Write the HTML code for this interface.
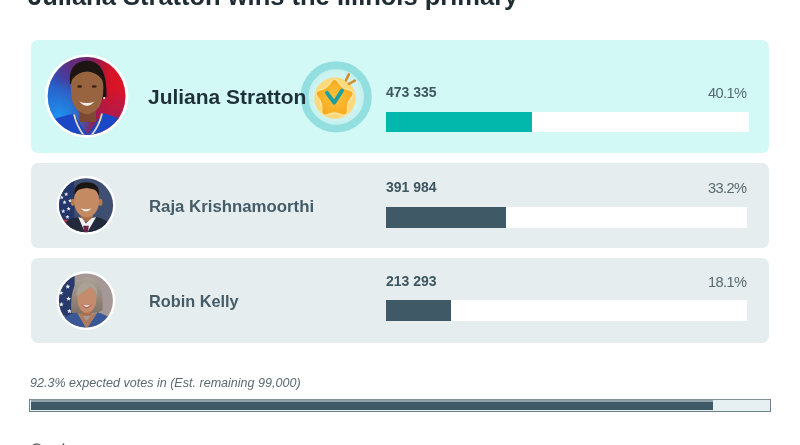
<!DOCTYPE html>
<html>
<head>
<meta charset="utf-8">
<style>
*{margin:0;padding:0;box-sizing:border-box}
html,body{width:800px;height:445px;overflow:hidden;background:#fff}
body{position:relative;font-family:"Liberation Sans",sans-serif}
.title,.name,.votes,.pct,.foot{will-change:transform}
.abs{position:absolute}
.title{position:absolute;left:28px;top:-19.4px;font-size:25.5px;font-weight:700;color:#1f2c33;white-space:nowrap;line-height:30px}
.card{position:absolute;left:30.5px;width:738.5px;border-radius:7px}
.c1{top:40px;height:112.5px;background:#d2f9f6}
.c2{top:163px;height:85px;background:#e5edef}
.c3{top:258px;height:84.5px;background:#e5edef}
.name{position:absolute;white-space:nowrap;font-weight:700}
.n1{left:148.3px;font-size:20.96px;color:#1f3138}
.n2{left:149px;font-size:16.6px;color:#455c68}
.votes{position:absolute;left:386.4px;font-size:14px;font-weight:700;color:#3e5660;white-space:nowrap}
.pct{position:absolute;right:54px;font-size:14.6px;letter-spacing:-0.6px;color:#58696f;white-space:nowrap}
.bar{position:absolute;left:386px;width:363px;height:20px;background:#fff}
.bar i{position:absolute;left:0;top:0;height:100%;display:block}
.foot{position:absolute;left:30px;top:375.5px;font-size:12.55px;font-style:italic;color:#5b6a70;white-space:nowrap}
.prog{position:absolute;left:29px;top:399px;width:742px;height:13px;border:1px solid #6e8188;border-top-color:#7d9096;background:#e6eff1}
.prog i{position:absolute;left:1.3px;top:0;height:10px;width:681.5px;background:#3f5966;border-top:2px solid #8fa2a8;display:block}
.av{position:absolute;border-radius:50%;background:#fff;overflow:hidden}
</style>
</head>
<body>
<div class="title">Juliana Stratton wins the Illinois primary</div>

<div class="card c1"></div>
<div class="card c2"></div>
<div class="card c3"></div>

<!-- avatar 1 -->
<svg class="abs" style="left:44px;top:54px" width="86" height="86" viewBox="44 54 86 86">
<defs>
<clipPath id="cp1"><circle cx="86.6" cy="96" r="38.9"/></clipPath>
<linearGradient id="g1bg" x1="0" y1="0" x2="1" y2="0">
<stop offset="0" stop-color="#2458cc"/><stop offset="0.3" stop-color="#3646a8"/><stop offset="0.55" stop-color="#8a1a50"/><stop offset="0.78" stop-color="#d61426"/><stop offset="1" stop-color="#e41424"/>
</linearGradient>
<radialGradient id="g1b" cx="0.18" cy="0.72" r="0.45"><stop offset="0" stop-color="#1e92f0"/><stop offset="1" stop-color="#1e92f0" stop-opacity="0"/></radialGradient>
<radialGradient id="g1p" cx="0.35" cy="0.08" r="0.35"><stop offset="0" stop-color="#6a2878"/><stop offset="1" stop-color="#6a2878" stop-opacity="0"/></radialGradient>
<radialGradient id="g1r" cx="0.9" cy="0.78" r="0.4"><stop offset="0" stop-color="#a81c58"/><stop offset="1" stop-color="#a81c58" stop-opacity="0"/></radialGradient>
</defs>
<circle cx="86.6" cy="96" r="41.8" fill="#fff"/>
<g clip-path="url(#cp1)">
<rect x="44" y="54" width="86" height="86" fill="url(#g1bg)"/>
<rect x="44" y="54" width="86" height="86" fill="url(#g1b)"/>
<rect x="44" y="54" width="86" height="86" fill="url(#g1p)"/>
<rect x="44" y="54" width="86" height="86" fill="url(#g1r)"/>
<path d="M70 84 Q67.5 62 87 60.5 Q107.5 61 106.5 97 L98 100 L76 84 Z" fill="#1d1512"/>
<rect x="79" y="104" width="17" height="18" fill="#7c4a33"/>
<path d="M70.8 88 Q70.8 70.5 87 69.5 Q103.4 70.5 103.4 88 Q103.4 104 96 110.5 Q90.5 114.2 87 114.2 Q83.5 114.2 78 110.5 Q70.8 104 70.8 88 Z" fill="#98633f"/>
<path d="M72 80 Q76 68 87 67 Q98 68 102.5 80 Q97 72 87 71.5 Q77 72 72 80 Z" fill="#1d1512"/>
<ellipse cx="79.6" cy="86.5" rx="2.5" ry="1.2" fill="#3a2216"/>
<ellipse cx="94.2" cy="86.5" rx="2.5" ry="1.2" fill="#3a2216"/>
<path d="M79.2 101.5 Q87 110 94.5 101.5 Q87 104.5 79.2 101.5 Z" fill="#f5efe9"/>
<circle cx="104.2" cy="98" r="1.1" fill="#f0e8e0"/>
<path d="M40 142 L46 123 Q60 116 73.5 114 L87.5 135 L102.5 113 Q116 116 127 123 L133 142 Z" fill="#1c48c6"/>
<path d="M74 114.5 Q77 127 85 137" stroke="#e6dabd" stroke-width="1.7" fill="none"/>
<path d="M102 113.5 Q99 127 90 137" stroke="#e6dabd" stroke-width="1.7" fill="none"/>
</g>
</svg>
<!-- avatar 2 -->
<svg class="abs" style="left:50px;top:170px" width="72" height="72" viewBox="0 0 445 445">
<defs>
<clipPath id="cp2"><circle cx="223" cy="218" r="167"/></clipPath>
</defs>
<circle cx="223" cy="218" r="182" fill="#fff"/>
<g clip-path="url(#cp2)">
<rect width="445" height="445" fill="#3e4f72"/>
<rect x="40" y="60" width="110" height="300" fill="#25366a"/>
<g fill="#e8ecf4"><polygon points="100.0,136.0 103.5,145.2 113.3,145.7 105.6,151.8 108.2,161.3 100.0,155.9 91.8,161.3 94.4,151.8 86.7,145.7 96.5,145.2"/><polygon points="125.0,176.0 128.5,185.2 138.3,185.7 130.6,191.8 133.2,201.3 125.0,195.9 116.8,201.3 119.4,191.8 111.7,185.7 121.5,185.2"/><polygon points="90.0,186.0 93.5,195.2 103.3,195.7 95.6,201.8 98.2,211.3 90.0,205.9 81.8,211.3 84.4,201.8 76.7,195.7 86.5,195.2"/><polygon points="115.0,226.0 118.5,235.2 128.3,235.7 120.6,241.8 123.2,251.3 115.0,245.9 106.8,251.3 109.4,241.8 101.7,235.7 111.5,235.2"/><polygon points="82.0,241.0 85.5,250.2 95.3,250.7 87.6,256.8 90.2,266.3 82.0,260.9 73.8,266.3 76.4,256.8 68.7,250.7 78.5,250.2"/><polygon points="108.0,276.0 111.5,285.2 121.3,285.7 113.6,291.8 116.2,301.3 108.0,295.9 99.8,301.3 102.4,291.8 94.7,285.7 104.5,285.2"/><polygon points="72.0,156.0 75.5,165.2 85.3,165.7 77.6,171.8 80.2,181.3 72.0,175.9 63.8,181.3 66.4,171.8 58.7,165.7 68.5,165.2"/></g>
<path d="M60 300 L150 320 L150 360 L60 345 Z" fill="#c83040"/>
<path d="M60 320 L150 338 L150 346 L60 330 Z" fill="#eee"/>
<path d="M150 150 Q146 78 226 76 Q306 78 304 150 L292 160 L162 160 Z" fill="#1a1614"/>
<rect x="190" y="260" width="75" height="60" fill="#a86e4c"/>
<ellipse cx="140" cy="200" rx="12" ry="22" fill="#b37a55"/><ellipse cx="312" cy="200" rx="12" ry="22" fill="#b37a55"/><ellipse cx="226" cy="192" rx="78" ry="100" fill="#c48a62"/>
<path d="M152 150 Q160 92 226 90 Q296 92 302 150 Q288 116 226 112 Q166 116 152 150Z" fill="#1a1614"/>
<path d="M190 236 Q222 274 258 236 Q222 250 190 236Z" fill="#f4f0ec"/>
<path d="M40 445 L70 340 Q120 300 175 290 L222 400 L285 290 Q340 300 380 340 L400 445 Z" fill="#22293a"/>
<path d="M175 290 L222 400 L285 290 L255 300 L222 330 L200 300 Z" fill="#f2f2f4"/>
<path d="M205 345 L240 345 L232 400 L212 400 Z" fill="#6c2444"/>
</g>
</svg>
<!-- avatar 3 -->
<svg class="abs" style="left:50px;top:264px" width="72" height="72" viewBox="0 0 445 445">
<defs>
<clipPath id="cp3"><circle cx="222" cy="226" r="167"/></clipPath>
<linearGradient id="h3" x1="0" y1="0" x2="0" y2="1"><stop offset="0" stop-color="#aca296"/><stop offset="1" stop-color="#7e7266"/></linearGradient>
</defs>
<circle cx="222" cy="226" r="182" fill="#fff"/>
<g clip-path="url(#cp3)">
<rect width="445" height="445" fill="#a69896"/>
<rect x="40" y="60" width="112" height="340" fill="#283a6c"/>
<g fill="#eef0f6"><polygon points="110.0,124.0 113.9,134.6 125.2,135.1 116.4,142.1 119.4,152.9 110.0,146.7 100.6,152.9 103.6,142.1 94.8,135.1 106.1,134.6"/><polygon points="68.0,162.0 71.9,172.6 83.2,173.1 74.4,180.1 77.4,190.9 68.0,184.7 58.6,190.9 61.6,180.1 52.8,173.1 64.1,172.6"/><polygon points="115.0,199.0 118.9,209.6 130.2,210.1 121.4,217.1 124.4,227.9 115.0,221.7 105.6,227.9 108.6,217.1 99.8,210.1 111.1,209.6"/><polygon points="70.0,234.0 73.9,244.6 85.2,245.1 76.4,252.1 79.4,262.9 70.0,256.7 60.6,262.9 63.6,252.1 54.8,245.1 66.1,244.6"/><polygon points="120.0,276.0 123.9,286.6 135.2,287.1 126.4,294.1 129.4,304.9 120.0,298.7 110.6,304.9 113.6,294.1 104.8,287.1 116.1,286.6"/><polygon points="78.0,309.0 81.9,319.6 93.2,320.1 84.4,327.1 87.4,337.9 78.0,331.7 68.6,337.9 71.6,327.1 62.8,320.1 74.1,319.6"/></g>
<path d="M132 300 Q118 95 228 80 Q335 90 325 285 L300 300 L150 312 Z" fill="url(#h3)"/>
<rect x="198" y="270" width="60" height="50" fill="#a86e52"/>
<ellipse cx="228" cy="214" rx="60" ry="88" fill="#c48c6c"/>
<path d="M164 200 Q165 120 232 112 Q296 120 294 210 Q284 160 250 140 Q210 170 164 200Z" fill="#aaa294"/>
<path d="M198 250 Q225 285 254 250 Q225 262 198 250Z" fill="#f6f0ec"/>
<path d="M198 250 Q225 290 254 250" stroke="#b04050" stroke-width="6" fill="none"/>
<path d="M40 445 L62 350 Q118 305 168 300 L226 400 L292 300 Q345 310 382 345 L400 445 Z" fill="#3b5896"/>
<path d="M168 300 L226 400 L292 300 L262 310 L226 350 L196 310 Z" fill="#b07a5c"/>
</g>
</svg>

<svg class="abs" style="left:296px;top:56px" width="80" height="80" viewBox="296 56 80 80">
<defs>
<radialGradient id="bgin" cx="0.5" cy="0.5" r="0.5"><stop offset="0.7" stop-color="#cdf4f2"/><stop offset="1" stop-color="#bcedeb"/></radialGradient>
<radialGradient id="stg" cx="0.5" cy="0.5" r="0.5"><stop offset="0" stop-color="#fcc23a"/><stop offset="1" stop-color="#f7ab20"/></radialGradient>
</defs>
<circle cx="336.2" cy="96.9" r="31.7" fill="url(#bgin)" stroke="#93dfe0" stroke-width="7.8"/>
<circle cx="335" cy="98.1" r="20.8" fill="#fcd97c"/>
<path d="M331.56 81.23 Q334.60 77.20 337.64 81.23 L340.20 84.62 Q342.59 87.80 346.36 89.10 L350.37 90.48 Q355.14 92.13 352.25 96.26 L349.82 99.74 Q347.53 103.00 347.46 106.98 L347.39 111.23 Q347.30 116.27 342.47 114.80 L338.41 113.56 Q334.60 112.40 330.79 113.56 L326.73 114.80 Q321.90 116.27 321.81 111.23 L321.74 106.98 Q321.67 103.00 319.38 99.74 L316.95 96.26 Q314.06 92.13 318.83 90.48 L322.84 89.10 Q326.61 87.80 329.00 84.62 Z" fill="url(#stg)" stroke="#fde6a0" stroke-width="1.3" stroke-linejoin="round"/>
<polyline points="327,92.8 334.2,102.6 342,90.6" fill="none" stroke="#1fa0a0" stroke-width="3.9" stroke-linecap="round" stroke-linejoin="round"/>
<line x1="346" y1="80.4" x2="348.8" y2="74.4" stroke="#d4902c" stroke-width="2.6" stroke-linecap="round"/>
<line x1="349" y1="83.8" x2="354.8" y2="80.6" stroke="#d4902c" stroke-width="2.6" stroke-linecap="round"/>
</svg>
<div class="name n1" style="top:85.3px">Juliana Stratton</div>
<div class="name n2" style="top:196.8px;font-size:16.8px">Raja Krishnamoorthi</div>
<div class="name n2" style="top:292.2px;font-size:16.3px">Robin Kelly</div>

<div class="votes" style="top:84px">473 335</div>
<div class="pct" style="top:85.2px">40.1%</div>
<div class="bar" style="top:111.7px;height:20.5px"><i style="width:145.6px;background:#02b7ac"></i></div>

<div class="votes" style="top:179px">391 984</div>
<div class="pct" style="top:180.2px">33.2%</div>
<div class="bar" style="top:207px;height:20.8px;width:361px"><i style="width:120px;background:#3f5966"></i></div>

<div class="votes" style="top:273px">213 293</div>
<div class="pct" style="top:274.2px">18.1%</div>
<div class="bar" style="top:300.3px;height:20.7px;width:361px"><i style="width:65.4px;background:#3f5966"></i></div>

<div class="foot">92.3% expected votes in (Est. remaining 99,000)</div>
<div class="prog"><i></i></div>
<svg class="abs" style="left:0;top:430px" width="100" height="15" viewBox="0 430 100 15">
<circle cx="36.7" cy="449.6" r="5.6" fill="none" stroke="#6a6e70" stroke-width="1.6"/>
<rect x="62.6" y="443.4" width="1.6" height="3" fill="#55595b"/>
</svg>
</body>
</html>
